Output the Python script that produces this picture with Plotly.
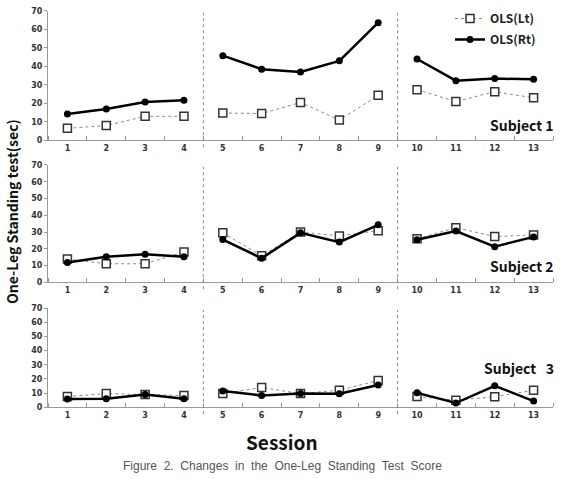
import plotly.graph_objects as go

W, H = 563, 479

sessions = list(range(1, 14))
phases = [[1, 2, 3, 4], [5, 6, 7, 8, 9], [10, 11, 12, 13]]

# Subject 1
s1_lt = [6.5, 8, 13, 13, 14.8, 14.5, 20.5, 11, 24.4, 27.4, 21, 26.3, 23]
s1_rt = [14.3, 17, 20.8, 21.7, 45.8, 38.5, 37, 43, 63.6, 44, 32.3, 33.4, 33]
# Subject 2
s2_lt = [13.9, 11.1, 11.1, 18.1, 29.6, 15.8, 30, 27.7, 30.8, 26, 32.6, 27.3, 28.3]
s2_rt = [11.9, 15.2, 16.8, 15.2, 25.5, 14.4, 29.5, 24, 34.3, 25.4, 30.6, 21.3, 27.1]
# Subject 3
s3_lt = [7.6, 9.7, 9, 8.3, 9.7, 13.9, 9.7, 12, 18.9, 7.6, 5, 7.4, 12]
s3_rt = [5.8, 6, 9, 6, 11.5, 8.3, 9.7, 9.5, 15.7, 10.2, 3, 15.2, 4.4]

subjects = ["Subject 1", "Subject 2", "Subject\u00a0\u00a0\u00a03"]
lt_data = [s1_lt, s2_lt, s3_lt]
rt_data = [s1_rt, s2_rt, s3_rt]
phase_breaks = [4.5, 9.5]
y_ticks = list(range(0, 71, 10))
caption = "Figure 2. Changes in the One-Leg Standing Test Score"


def px_x(p):
    return p / W


def px_y(p):
    return 1 - p / H


def gapped(values):
    xs, ys = [], []
    for k, ph in enumerate(phases):
        if k:
            xs.append(None)
            ys.append(None)
        for s in ph:
            xs.append(s)
            ys.append(values[s - 1])
    return xs, ys


# panel pixel extents (top, bottom)
panels = [(7, 139), (164, 283.7), (310, 411)]
x_dom = [px_x(48), px_x(553)]

fig = go.Figure()
tick_font = dict(family="DejaVu Sans", size=8, color="#333", weight="bold")

for i in range(3):
    xa = "x" if i == 0 else f"x{i+1}"
    ya = "y" if i == 0 else f"y{i+1}"
    xl, yl = gapped(lt_data[i])
    xr, yr = gapped(rt_data[i])
    fig.add_trace(go.Scatter(
        x=xl, y=yl, xaxis=xa, yaxis=ya, mode="lines+markers", name="OLS(Lt)",
        legendgroup="lt", showlegend=(i == 0),
        line=dict(color="#8a8a8a", width=1, dash="dot"),
        marker=dict(symbol="square", size=8, color="white",
                    line=dict(color="#333", width=1.5)),
    ))
    fig.add_trace(go.Scatter(
        x=xr, y=yr, xaxis=xa, yaxis=ya, mode="lines+markers", name="OLS(Rt)",
        legendgroup="rt", showlegend=(i == 0),
        line=dict(color="#000", width=2.5),
        marker=dict(symbol="circle", size=7, color="#000"),
    ))
    top, bot = panels[i]
    xkey = "xaxis" if i == 0 else f"xaxis{i+1}"
    ykey = "yaxis" if i == 0 else f"yaxis{i+1}"
    fig.update_layout(**{
        xkey: dict(domain=x_dom, range=[0.5, 13.5], anchor=ya,
                   tickvals=sessions, ticktext=[str(s) for s in sessions],
                   ticks="", showgrid=False, zeroline=False,
                   showline=True, linecolor="#999", linewidth=1,
                   tickfont=tick_font,
                   minor=dict(ticks="inside", tick0=0.5, dtick=1, ticklen=4,
                              tickcolor="#999", showgrid=False)),
        ykey: dict(domain=[px_y(bot), px_y(top)], range=[0, 70], anchor=xa,
                   tickvals=y_ticks, ticks="outside", ticklen=3,
                   tickcolor="#999", showgrid=False, zeroline=False,
                   showline=True, linecolor="#999", linewidth=1,
                   tickfont=tick_font),
    })
    for b in phase_breaks:
        fig.add_shape(type="line", xref=xa, yref="paper", x0=b, x1=b,
                      y0=px_y(bot + 7), y1=px_y(top + 2),
                      line=dict(color="#888", width=1, dash="dot"))
    label_y = [123, 267, 371][i]
    fig.add_annotation(text=subjects[i], xref="paper", yref="paper",
                       x=px_x(556), y=px_y(label_y), xanchor="right",
                       yanchor="middle", showarrow=False,
                       font=dict(family="Noto Sans CJK KR", size=14,
                                 color="#111", weight="bold"))

fig.add_annotation(text="One-Leg Standing test(sec)", xref="paper", yref="paper",
                   x=px_x(12), y=px_y(212), textangle=-90, showarrow=False,
                   xanchor="center", yanchor="middle",
                   font=dict(family="Noto Sans CJK KR", size=14, color="#111",
                             weight="bold"))
fig.add_annotation(text="Session", xref="paper", yref="paper",
                   x=px_x(282), y=px_y(446), showarrow=False,
                   xanchor="center", yanchor="middle", borderpad=0,
                   font=dict(family="Noto Sans CJK KR", size=19, color="#111",
                             weight="bold"))
fig.add_annotation(text=caption.replace(" ", "\u00a0\u00a0"),
                   xref="paper", yref="paper",
                   x=px_x(282), y=px_y(479), showarrow=False,
                   xanchor="center", yanchor="bottom", borderpad=0,
                   font=dict(family="Liberation Sans", size=12, color="#555"))

fig.update_layout(
    width=W, height=H,
    margin=dict(l=0, r=0, t=0, b=0),
    paper_bgcolor="white", plot_bgcolor="white",
    showlegend=True,
    legend=dict(x=px_x(450), y=1.0, xanchor="left", yanchor="top",
                bgcolor="rgba(0,0,0,0)", tracegroupgap=2,
                font=dict(family="Noto Sans CJK KR", size=12, color="#222",
                          weight="bold")),
)

fig.write_html("out.html")
